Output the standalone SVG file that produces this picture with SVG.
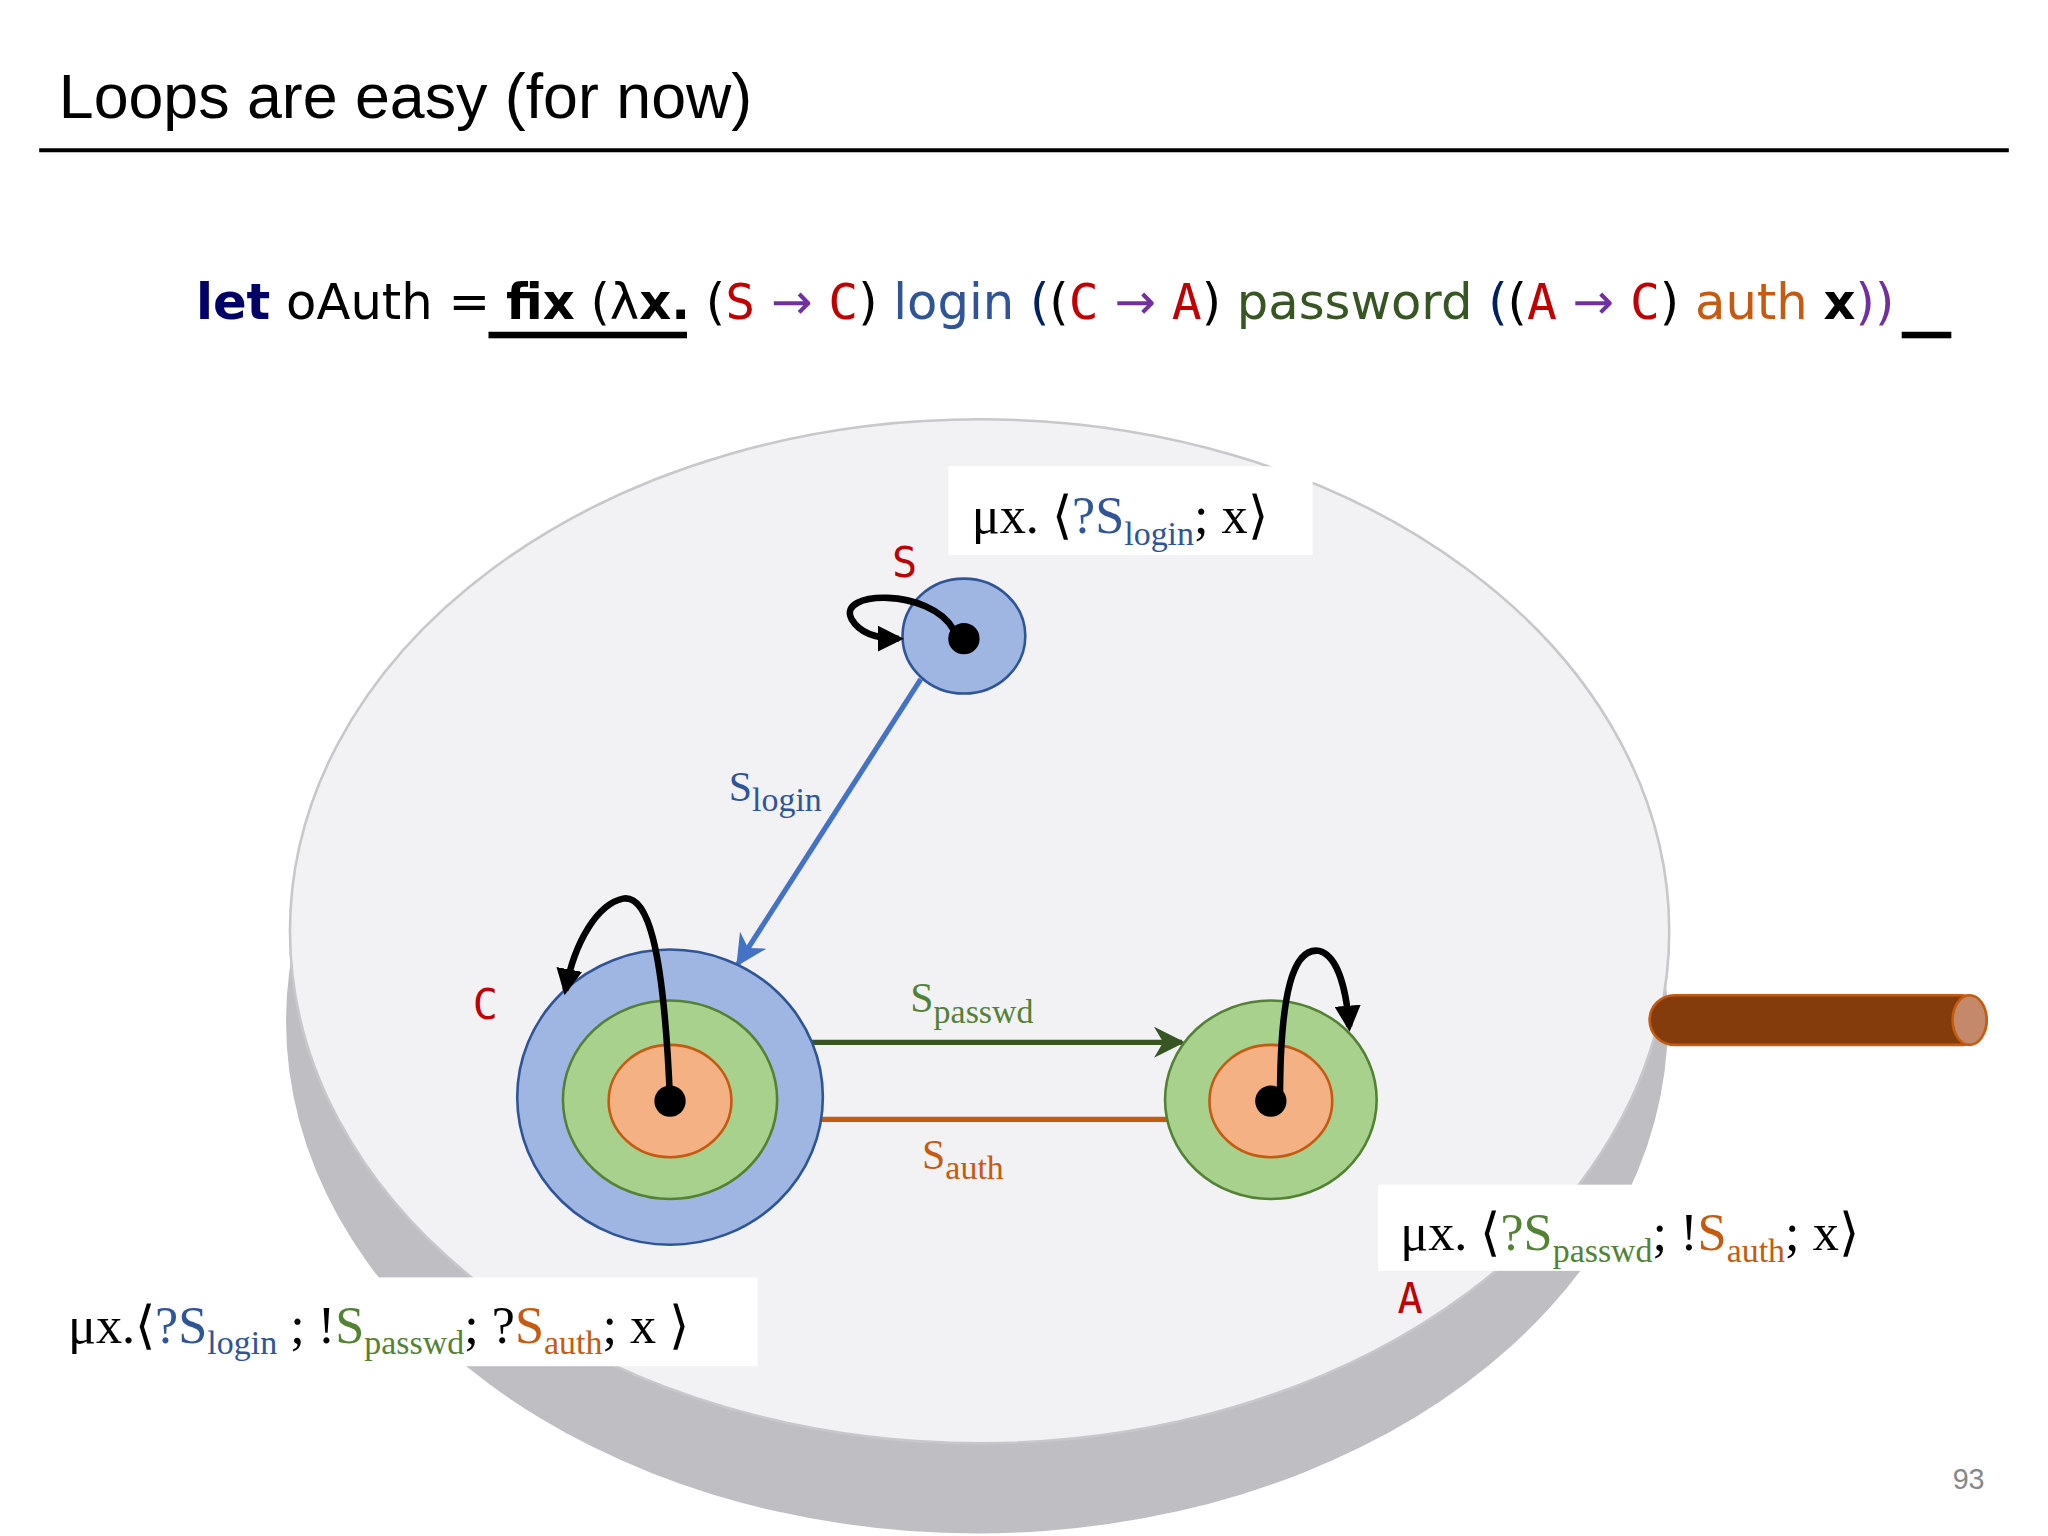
<svg xmlns="http://www.w3.org/2000/svg" width="2048" height="1536" viewBox="0 0 2048 1536">
<defs>
<style>
.serif{font-family:"Liberation Serif","Times New Roman",serif;font-size:40px}
.mono{font-family:"DejaVu Sans Mono",monospace}
.sans{font-family:"DejaVu Sans",Verdana,sans-serif}
.lbl{font-family:"DejaVu Sans Mono",monospace;font-size:32px;fill:#c00000}
.sub{font-size:26px}
.loop{fill:none;stroke:#000;stroke-width:5}
</style>
<marker id="ak" viewBox="0 0 10 10" refX="8" refY="5" markerWidth="4" markerHeight="4" orient="auto"><path d="M0,0 L10,5 L0,10 z" fill="#000"/></marker>
<marker id="ab" viewBox="0 0 10 10" refX="9" refY="5" markerWidth="6" markerHeight="6" orient="auto"><path d="M0,0 L10,5 L0,10 L3,5 z" fill="#4472c4"/></marker>
<marker id="ag" viewBox="0 0 10 10" refX="9" refY="5" markerWidth="6" markerHeight="6" orient="auto"><path d="M0,0 L10,5 L0,10 L3,5 z" fill="#375623"/></marker>
<marker id="ao" viewBox="0 0 10 10" refX="9" refY="5" markerWidth="6" markerHeight="6" orient="auto"><path d="M0,0 L10,5 L0,10 L3,5 z" fill="#c55a11"/></marker>
</defs>
<rect width="2048" height="1536" fill="#fff"/>
<g transform="scale(1.30612)">
<g id="title">
<text x="45" y="90" class="sans" font-family="Liberation Sans,Arial,sans-serif" font-size="48" fill="#000" style="font-family:'Liberation Sans',Arial,sans-serif">Loops are easy (for now)</text>
<line x1="30" y1="115" x2="1538" y2="115" stroke="#000" stroke-width="3"/>
</g>
<g id="formula" class="sans" font-size="38">
<text x="150" y="244"><tspan font-weight="bold" fill="#000066">let</tspan> oAuth = <tspan font-weight="bold">fix</tspan> (λ<tspan font-weight="bold">x.</tspan> (<tspan class="mono" fill="#c00000">S</tspan> <tspan fill="#7030a0">→</tspan> <tspan class="mono" fill="#c00000">C</tspan>) <tspan fill="#2f5597">login</tspan> <tspan fill="#002060">(</tspan>(<tspan class="mono" fill="#c00000">C</tspan> <tspan fill="#7030a0">→</tspan> <tspan class="mono" fill="#c00000">A</tspan>) <tspan fill="#375623">password</tspan> <tspan fill="#002060">(</tspan>(<tspan class="mono" fill="#c00000">A</tspan> <tspan fill="#7030a0">→</tspan> <tspan class="mono" fill="#c00000">C</tspan>) <tspan fill="#c55a11">auth</tspan> <tspan font-weight="bold">x</tspan><tspan fill="#7030a0">))</tspan></text>
<rect x="374" y="254" width="152" height="5" fill="#000"/>
<rect x="1456" y="254" width="38" height="5" fill="#000"/>
</g>
<g id="table">
<ellipse cx="748" cy="782" rx="529" ry="392" fill="#bfbec3"/>
<ellipse cx="750" cy="713" rx="528" ry="392" fill="#f2f2f4" stroke="#c8c8cc" stroke-width="2"/>
</g>
<g id="pipe">
<rect x="1263" y="762" width="258" height="38" rx="19" fill="#843c0c" stroke="#c55a11" stroke-width="2"/>
<ellipse cx="1508" cy="781" rx="13" ry="19" fill="#c3896a" stroke="#c55a11" stroke-width="2"/>
</g>
<g id="connectors" stroke-width="4">
<line x1="705" y1="520" x2="565" y2="738" stroke="#4472c4" marker-end="url(#ab)"/>
<line x1="583" y1="798" x2="905" y2="798" stroke="#375623" marker-end="url(#ag)"/>
<line x1="925" y1="857" x2="557" y2="857" stroke="#c55a11" marker-end="url(#ao)"/>
</g>
<g id="nodeS">
<ellipse cx="738" cy="487" rx="47" ry="44" fill="#9fb6e2" stroke="#2f5597" stroke-width="2"/>
<circle cx="738" cy="489" r="12" fill="#000"/>
<path class="loop" d="M730,482 C712,450 640,452 652,474 C660,488 678,489 688,489" marker-end="url(#ak)"/>
<text x="683" y="442" class="lbl">S</text>
</g>
<g id="nodeC">
<ellipse cx="513" cy="840" rx="117" ry="113" fill="#9fb6e2" stroke="#2f5597" stroke-width="2"/>
<ellipse cx="513" cy="842" rx="82" ry="76" fill="#a9d18e" stroke="#548235" stroke-width="2"/>
<ellipse cx="513" cy="843" rx="47" ry="43" fill="#f4b183" stroke="#c55a11" stroke-width="2"/>
<circle cx="513" cy="843" r="12" fill="#000"/>
<path class="loop" d="M513,843 C508,720 495,685 477,688 C458,692 440,720 433,758" marker-end="url(#ak)"/>
<text x="362" y="780" class="lbl">C</text>
</g>
<g id="nodeA">
<ellipse cx="973" cy="842" rx="81" ry="76" fill="#a9d18e" stroke="#548235" stroke-width="2"/>
<ellipse cx="973" cy="843" rx="47" ry="43" fill="#f4b183" stroke="#c55a11" stroke-width="2"/>
<circle cx="973" cy="843" r="12" fill="#000"/>
<path class="loop" d="M980,843 C980,760 990,725 1010,728 C1025,732 1031,760 1033,786" marker-end="url(#ak)"/>
<text x="1070" y="1005" class="lbl">A</text>
</g>
<g id="edgeLabels" class="serif" font-size="32">
<text x="558" y="613" fill="#2f5597" font-size="32">S<tspan class="sub" dy="8">login</tspan></text>
<text x="697" y="775" fill="#548235" font-size="32">S<tspan class="sub" dy="8">passwd</tspan></text>
<text x="706" y="895" fill="#c55a11" font-size="32">S<tspan class="sub" dy="8">auth</tspan></text>
</g>
<g id="typeS">
<rect x="726" y="357" width="279" height="68" fill="#fff"/>
<text x="744" y="408" class="serif">μx. ⟨<tspan fill="#2f5597">?S<tspan class="sub" dy="9">login</tspan></tspan><tspan dy="-9">; x⟩</tspan></text>
</g>
<g id="typeA">
<rect x="1055" y="907" width="395" height="66" fill="#fff"/>
<text x="1072" y="957" class="serif">μx. ⟨<tspan fill="#548235">?S<tspan class="sub" dy="9">passwd</tspan></tspan><tspan dy="-9">; !</tspan><tspan fill="#c55a11">S<tspan class="sub" dy="9">auth</tspan></tspan><tspan dy="-9">; x⟩</tspan></text>
</g>
<g id="typeC">
<rect x="40" y="978" width="540" height="68" fill="#fff"/>
<text x="52" y="1028" class="serif">μx.⟨<tspan fill="#2f5597">?S<tspan class="sub" dy="9">login</tspan></tspan><tspan dy="-9"> ; !</tspan><tspan fill="#548235">S<tspan class="sub" dy="9">passwd</tspan></tspan><tspan dy="-9">; ?</tspan><tspan fill="#c55a11">S<tspan class="sub" dy="9">auth</tspan></tspan><tspan dy="-9">; x ⟩</tspan></text>
</g>
<text x="1495" y="1140" font-family="Liberation Sans,Arial,sans-serif" font-size="22" fill="#888">93</text>
</g>
</svg>
